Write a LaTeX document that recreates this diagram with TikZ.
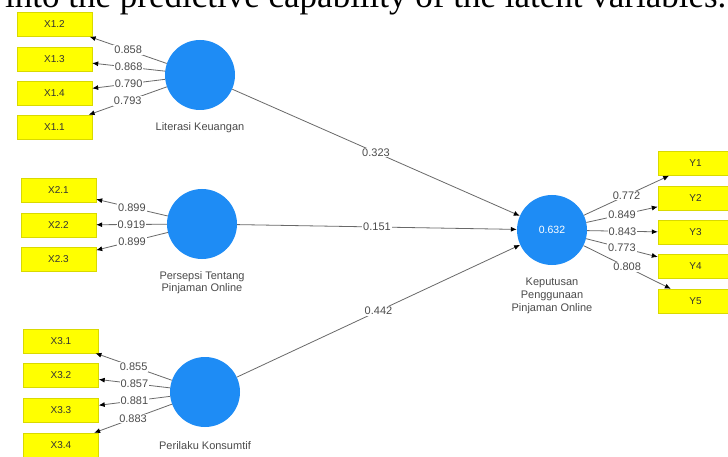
\documentclass[tikz,border=0pt]{standalone}
\usepackage{fontspec}
\setmainfont{Liberation Sans}
\newfontfamily\serifx{Liberation Serif}
\usetikzlibrary{arrows.meta}
\definecolor{lvblue}{RGB}{30,140,245}
\definecolor{boxyel}{RGB}{255,255,0}
\definecolor{edgegray}{RGB}{105,105,105}
\definecolor{lblgray}{RGB}{75,75,75}
\begin{document}
\begin{tikzpicture}[x=1pt,y=-1pt,
  ind/.style={rectangle, fill=boxyel, draw=boxyel!85!black, line width=0.4pt,
    minimum width=75pt, minimum height=24pt, inner sep=0pt,
    font=\fontsize{10}{11}\selectfont, text=black!80},
  lv/.style={circle, fill=lvblue, minimum size=70pt, inner sep=0pt,
    font=\fontsize{10.5}{12}\selectfont, text=white},
  lvlbl/.style={font=\fontsize{11}{12.8}\selectfont, text=lblgray, align=center, inner sep=0pt},
  conn/.style={draw=edgegray, line width=0.8pt, -{Latex[length=6pt,width=5pt,color=black]}},
  wl/.style={fill=white, inner sep=1pt, font=\fontsize{11}{12}\selectfont, text=lblgray}]
\useasboundingbox (0,0) rectangle (728,457);
\clip (0,0) rectangle (728,457);
\fill[white] (0,0) rectangle (728,457);

% cropped caption text at the top
\node[anchor=base west, inner sep=0pt, font=\serifx\fontsize{35}{38}\selectfont] (cap) at (5,8)
  {into the predictive capability of the latent variables.};

% latent variables
\node[lv] (L) at (200,75) {};
\node[lv] (P) at (202,224) {};
\node[lv] (B) at (205,392) {};
\node[lv] (K) at (552,230) {0.632};

\node[lvlbl, anchor=north] (Llab) at (200,122) {Literasi Keuangan};
\node[lvlbl, anchor=north] (Plab) at (202,271) {Persepsi Tentang\\Pinjaman Online};
\node[lvlbl, anchor=north] (Blab) at (205,441) {Perilaku Konsumtif};
\node[lvlbl, anchor=north] (Klab) at (552,278) {Keputusan\\Penggunaan\\Pinjaman Online};

% indicators
\node[ind] (x12) at (54.5,24.5) {X1.2};
\node[ind] (x13) at (54.5,59) {X1.3};
\node[ind] (x14) at (54.5,93) {X1.4};
\node[ind] (x11) at (54.5,127) {X1.1};

\node[ind] (x21) at (58.5,190.5) {X2.1};
\node[ind] (x22) at (58.5,225) {X2.2};
\node[ind] (x23) at (58.5,259.5) {X2.3};

\node[ind] (x31) at (61,341) {X3.1};
\node[ind] (x32) at (61,375) {X3.2};
\node[ind] (x33) at (61,410) {X3.3};
\node[ind] (x34) at (61,445) {X3.4};

\node[ind] (y1) at (695.5,163.5) {Y1};
\node[ind] (y2) at (695.5,198.5) {Y2};
\node[ind] (y3) at (695.5,232.5) {Y3};
\node[ind] (y4) at (695.5,266.5) {Y4};
\node[ind] (y5) at (695.5,301) {Y5};

% outer loadings
\draw[conn] (L) -- node[wl] (l1) {0.858} (x12);
\draw[conn] (L) -- node[wl] (l2) {0.868} (x13);
\draw[conn] (L) -- node[wl] (l3) {0.790} (x14);
\draw[conn] (L) -- node[wl] (l4) {0.793} (x11);

\draw[conn] (P) -- node[wl] (p1) {0.899} (x21);
\draw[conn] (P) -- node[wl] (p2) {0.919} (x22);
\draw[conn] (P) -- node[wl] (p3) {0.899} (x23);

\draw[conn] (B) -- node[wl] (b1) {0.855} (x31);
\draw[conn] (B) -- node[wl] (b2) {0.857} (x32);
\draw[conn] (B) -- node[wl] (b3) {0.881} (x33);
\draw[conn] (B) -- node[wl] (b4) {0.883} (x34);

\draw[conn] (K) -- node[wl] (k1) {0.772} (y1);
\draw[conn] (K) -- node[wl] (k2) {0.849} (y2);
\draw[conn] (K) -- node[wl] (k3) {0.843} (y3);
\draw[conn] (K) -- node[wl] (k4) {0.773} (y4);
\draw[conn] (K) -- node[wl] (k5) {0.808} (y5);

% structural paths
\draw[conn] (L) -- node[wl] (s1) {0.323} (K);
\draw[conn] (P) -- node[wl] (s2) {0.151} (K);
\draw[conn] (B) -- node[wl] (s3) {0.442} (K);
\end{tikzpicture}
\end{document}
